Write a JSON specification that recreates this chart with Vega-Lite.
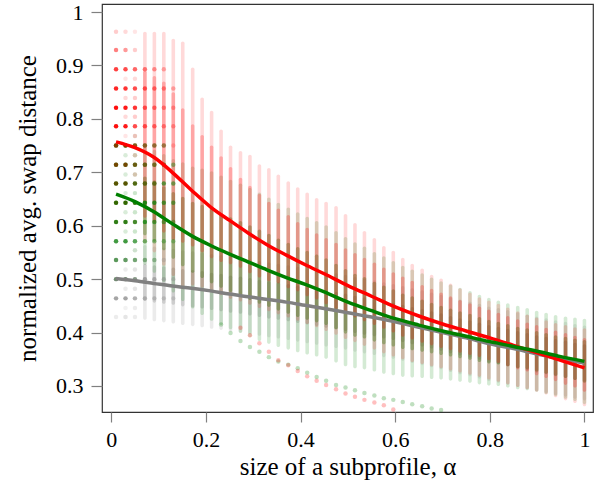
{
"$schema":"https://vega.github.io/schema/vega-lite/v6.json",
"width":491,"height":408,
"autosize":"none",
"padding":{"left":102,"top":4,"right":7,"bottom":79},
"config":{
 "font":"Liberation Serif",
 "view":{"stroke":"#333333","strokeWidth":1.2}
},
"datasets":{
"stripes":[
{"a":0.071,"rL":0.567,"rB":0.615,"rD":0.89,"rT":0.963,"gL":0.527,"gB":0.582,"gD":0.692,"gT":0.747,"kL":0.424,"kB":0.459,"kD":0.529,"kT":0.564},
{"a":0.091,"rL":0.550,"rB":0.605,"rD":0.88,"rT":0.963,"gL":0.512,"gB":0.570,"gD":0.685,"gT":0.742,"kL":0.421,"kB":0.456,"kD":0.526,"kT":0.561},
{"a":0.111,"rL":0.525,"rB":0.587,"rD":0.87,"rT":0.963,"gL":0.494,"gB":0.554,"gD":0.674,"gT":0.734,"kL":0.419,"kB":0.454,"kD":0.524,"kT":0.559},
{"a":0.131,"rL":0.506,"rB":0.573,"rD":0.85,"rT":0.95,"gL":0.475,"gB":0.538,"gD":0.663,"gT":0.725,"kL":0.417,"kB":0.452,"kD":0.522,"kT":0.557},
{"a":0.151,"rL":0.481,"rB":0.568,"rD":0.82,"rT":0.945,"gL":0.459,"gB":0.524,"gD":0.654,"gT":0.719,"kL":0.414,"kB":0.449,"kD":0.519,"kT":0.554},
{"a":0.172,"rL":0.488,"rB":0.561,"rD":0.79,"rT":0.896,"gL":0.445,"gB":0.512,"gD":0.645,"gT":0.711,"kL":0.412,"kB":0.447,"kD":0.517,"kT":0.552},
{"a":0.192,"rL":0.484,"rB":0.550,"rD":0.77,"rT":0.84,"gL":0.433,"gB":0.502,"gD":0.639,"gT":0.707,"kL":0.410,"kB":0.445,"kD":0.515,"kT":0.550},
{"a":0.212,"rL":0.477,"rB":0.539,"rD":0.75,"rT":0.815,"gL":0.422,"gB":0.492,"gD":0.632,"gT":0.702,"kL":0.407,"kB":0.442,"kD":0.512,"kT":0.547},
{"a":0.232,"rL":0.470,"rB":0.532,"rD":0.73,"rT":0.78,"gL":0.414,"gB":0.484,"gD":0.624,"gT":0.694,"kL":0.405,"kB":0.440,"kD":0.510,"kT":0.545},
{"a":0.252,"rL":0.463,"rB":0.528,"rD":0.71,"rT":0.75,"gL":0.406,"gB":0.476,"gD":0.616,"gT":0.686,"kL":0.402,"kB":0.437,"kD":0.507,"kT":0.542},
{"a":0.273,"rL":0.458,"rB":0.521,"rD":0.69,"rT":0.74,"gL":0.399,"gB":0.469,"gD":0.609,"gT":0.679,"kL":0.400,"kB":0.435,"kD":0.505,"kT":0.540},
{"a":0.293,"rL":0.452,"rB":0.511,"rD":0.675,"rT":0.733,"gL":0.391,"gB":0.461,"gD":0.601,"gT":0.671,"kL":0.397,"kB":0.432,"kD":0.502,"kT":0.537},
{"a":0.313,"rL":0.446,"rB":0.503,"rD":0.66,"rT":0.715,"gL":0.384,"gB":0.454,"gD":0.593,"gT":0.662,"kL":0.394,"kB":0.429,"kD":0.499,"kT":0.534},
{"a":0.333,"rL":0.440,"rB":0.496,"rD":0.645,"rT":0.708,"gL":0.379,"gB":0.448,"gD":0.585,"gT":0.653,"kL":0.391,"kB":0.426,"kD":0.496,"kT":0.531},
{"a":0.353,"rL":0.434,"rB":0.492,"rD":0.632,"rT":0.696,"gL":0.373,"gB":0.441,"gD":0.576,"gT":0.643,"kL":0.389,"kB":0.424,"kD":0.494,"kT":0.529},
{"a":0.374,"rL":0.428,"rB":0.483,"rD":0.62,"rT":0.683,"gL":0.368,"gB":0.435,"gD":0.568,"gT":0.634,"kL":0.386,"kB":0.421,"kD":0.491,"kT":0.526},
{"a":0.394,"rL":0.422,"rB":0.477,"rD":0.607,"rT":0.672,"gL":0.363,"gB":0.429,"gD":0.560,"gT":0.625,"kL":0.383,"kB":0.418,"kD":0.488,"kT":0.523},
{"a":0.414,"rL":0.416,"rB":0.468,"rD":0.596,"rT":0.662,"gL":0.359,"gB":0.424,"gD":0.553,"gT":0.617,"kL":0.380,"kB":0.415,"kD":0.485,"kT":0.520},
{"a":0.434,"rL":0.410,"rB":0.462,"rD":0.586,"rT":0.652,"gL":0.355,"gB":0.419,"gD":0.546,"gT":0.609,"kL":0.377,"kB":0.412,"kD":0.482,"kT":0.517},
{"a":0.454,"rL":0.403,"rB":0.453,"rD":0.577,"rT":0.645,"gL":0.351,"gB":0.414,"gD":0.539,"gT":0.601,"kL":0.374,"kB":0.409,"kD":0.479,"kT":0.514},
{"a":0.475,"rL":0.396,"rB":0.444,"rD":0.568,"rT":0.637,"gL":0.344,"gB":0.406,"gD":0.529,"gT":0.590,"kL":0.371,"kB":0.406,"kD":0.476,"kT":0.511},
{"a":0.495,"rL":0.388,"rB":0.436,"rD":0.558,"rT":0.622,"gL":0.337,"gB":0.398,"gD":0.519,"gT":0.579,"kL":0.368,"kB":0.403,"kD":0.473,"kT":0.508},
{"a":0.515,"rL":0.382,"rB":0.428,"rD":0.549,"rT":0.605,"gL":0.333,"gB":0.392,"gD":0.510,"gT":0.569,"kL":0.364,"kB":0.399,"kD":0.469,"kT":0.504},
{"a":0.535,"rL":0.375,"rB":0.421,"rD":0.54,"rT":0.59,"gL":0.331,"gB":0.389,"gD":0.504,"gT":0.561,"kL":0.361,"kB":0.396,"kD":0.466,"kT":0.501},
{"a":0.556,"rL":0.368,"rB":0.414,"rD":0.531,"rT":0.577,"gL":0.327,"gB":0.383,"gD":0.495,"gT":0.551,"kL":0.358,"kB":0.393,"kD":0.463,"kT":0.498},
{"a":0.576,"rL":0.361,"rB":0.407,"rD":0.522,"rT":0.562,"gL":0.323,"gB":0.378,"gD":0.488,"gT":0.543,"kL":0.354,"kB":0.389,"kD":0.459,"kT":0.494},
{"a":0.596,"rL":0.355,"rB":0.400,"rD":0.513,"rT":0.553,"gL":0.320,"gB":0.374,"gD":0.481,"gT":0.534,"kL":0.351,"kB":0.386,"kD":0.456,"kT":0.491},
{"a":0.616,"rL":0.350,"rB":0.392,"rD":0.505,"rT":0.54,"gL":0.317,"gB":0.369,"gD":0.473,"gT":0.525,"kL":0.347,"kB":0.382,"kD":0.452,"kT":0.487},
{"a":0.636,"rL":0.345,"rB":0.387,"rD":0.497,"rT":0.529,"gL":0.316,"gB":0.367,"gD":0.468,"gT":0.518,"kL":0.343,"kB":0.378,"kD":0.448,"kT":0.483},
{"a":0.657,"rL":0.341,"rB":0.381,"rD":0.489,"rT":0.52,"gL":0.315,"gB":0.364,"gD":0.462,"gT":0.511,"kL":0.339,"kB":0.374,"kD":0.444,"kT":0.479},
{"a":0.677,"rL":0.337,"rB":0.376,"rD":0.482,"rT":0.508,"gL":0.313,"gB":0.361,"gD":0.456,"gT":0.503,"kL":0.335,"kB":0.370,"kD":0.440,"kT":0.475},
{"a":0.697,"rL":0.333,"rB":0.371,"rD":0.475,"rT":0.501,"gL":0.312,"gB":0.358,"gD":0.450,"gT":0.496,"kL":0.331,"kB":0.366,"kD":0.436,"kT":0.471},
{"a":0.717,"rL":0.329,"rB":0.367,"rD":0.468,"rT":0.492,"gL":0.310,"gB":0.355,"gD":0.445,"gT":0.490,"kL":0.326,"kB":0.361,"kD":0.431,"kT":0.466},
{"a":0.737,"rL":0.325,"rB":0.362,"rD":0.461,"rT":0.483,"gL":0.308,"gB":0.352,"gD":0.440,"gT":0.484,"kL":0.322,"kB":0.357,"kD":0.427,"kT":0.462},
{"a":0.758,"rL":0.321,"rB":0.358,"rD":0.455,"rT":0.475,"gL":0.306,"gB":0.349,"gD":0.435,"gT":0.478,"kL":0.318,"kB":0.353,"kD":0.423,"kT":0.458},
{"a":0.778,"rL":0.317,"rB":0.354,"rD":0.449,"rT":0.466,"gL":0.303,"gB":0.345,"gD":0.429,"gT":0.471,"kL":0.314,"kB":0.349,"kD":0.419,"kT":0.454},
{"a":0.798,"rL":0.312,"rB":0.348,"rD":0.443,"rT":0.46,"gL":0.301,"gB":0.342,"gD":0.424,"gT":0.465,"kL":0.309,"kB":0.344,"kD":0.414,"kT":0.449},
{"a":0.818,"rL":0.308,"rB":0.343,"rD":0.437,"rT":0.454,"gL":0.300,"gB":0.340,"gD":0.420,"gT":0.460,"kL":0.306,"kB":0.341,"kD":0.411,"kT":0.446},
{"a":0.838,"rL":0.303,"rB":0.337,"rD":0.431,"rT":0.447,"gL":0.297,"gB":0.337,"gD":0.416,"gT":0.455,"kL":0.302,"kB":0.337,"kD":0.407,"kT":0.442},
{"a":0.859,"rL":0.298,"rB":0.331,"rD":0.425,"rT":0.44,"gL":0.294,"gB":0.333,"gD":0.411,"gT":0.450,"kL":0.298,"kB":0.333,"kD":0.403,"kT":0.438},
{"a":0.879,"rL":0.294,"rB":0.327,"rD":0.419,"rT":0.434,"gL":0.292,"gB":0.331,"gD":0.408,"gT":0.446,"kL":0.294,"kB":0.329,"kD":0.399,"kT":0.434},
{"a":0.899,"rL":0.289,"rB":0.320,"rD":0.414,"rT":0.428,"gL":0.289,"gB":0.327,"gD":0.403,"gT":0.441,"kL":0.290,"kB":0.325,"kD":0.395,"kT":0.430},
{"a":0.919,"rL":0.284,"rB":0.315,"rD":0.409,"rT":0.423,"gL":0.285,"gB":0.323,"gD":0.399,"gT":0.437,"kL":0.287,"kB":0.322,"kD":0.392,"kT":0.427},
{"a":0.939,"rL":0.279,"rB":0.309,"rD":0.404,"rT":0.418,"gL":0.281,"gB":0.319,"gD":0.395,"gT":0.433,"kL":0.283,"kB":0.318,"kD":0.388,"kT":0.423},
{"a":0.960,"rL":0.273,"rB":0.302,"rD":0.399,"rT":0.414,"gL":0.276,"gB":0.315,"gD":0.392,"gT":0.430,"kL":0.280,"kB":0.315,"kD":0.385,"kT":0.420},
{"a":0.980,"rL":0.268,"rB":0.297,"rD":0.394,"rT":0.41,"gL":0.272,"gB":0.311,"gD":0.389,"gT":0.428,"kL":0.276,"kB":0.311,"kD":0.381,"kT":0.416},
{"a":1.000,"rL":0.262,"rB":0.289,"rD":0.39,"rT":0.408,"gL":0.266,"gB":0.306,"gD":0.386,"gT":0.426,"kL":0.273,"kB":0.308,"kD":0.378,"kT":0.413}
],
"pts":[
{"a":0.01,"s":"k","y":0.571,"n":6},{"a":0.01,"s":"k","y":0.536,"n":12},{"a":0.01,"s":"k","y":0.500,"n":18},{"a":0.01,"s":"k","y":0.464,"n":14},{"a":0.01,"s":"k","y":0.429,"n":3},
{"a":0.01,"s":"g","y":0.786,"n":2},{"a":0.01,"s":"g","y":0.750,"n":20},{"a":0.01,"s":"g","y":0.714,"n":20},{"a":0.01,"s":"g","y":0.679,"n":20},{"a":0.01,"s":"g","y":0.643,"n":20},{"a":0.01,"s":"g","y":0.607,"n":18},{"a":0.01,"s":"g","y":0.571,"n":14},{"a":0.01,"s":"g","y":0.536,"n":10},{"a":0.01,"s":"g","y":0.500,"n":4},
{"a":0.01,"s":"r","y":0.963,"n":4},{"a":0.01,"s":"r","y":0.929,"n":10},{"a":0.01,"s":"r","y":0.893,"n":15},{"a":0.01,"s":"r","y":0.857,"n":17},{"a":0.01,"s":"r","y":0.821,"n":19},{"a":0.01,"s":"r","y":0.786,"n":19},{"a":0.01,"s":"r","y":0.750,"n":10},{"a":0.01,"s":"r","y":0.714,"n":9},{"a":0.01,"s":"r","y":0.679,"n":7},{"a":0.01,"s":"r","y":0.643,"n":4},{"a":0.01,"s":"r","y":0.607,"n":2},
{"a":0.03,"s":"k","y":0.571,"n":6},{"a":0.03,"s":"k","y":0.536,"n":12},{"a":0.03,"s":"k","y":0.518,"n":3},{"a":0.03,"s":"k","y":0.500,"n":18},{"a":0.03,"s":"k","y":0.482,"n":3},{"a":0.03,"s":"k","y":0.464,"n":14},{"a":0.03,"s":"k","y":0.446,"n":2},{"a":0.03,"s":"k","y":0.429,"n":4},
{"a":0.03,"s":"g","y":0.750,"n":20},{"a":0.03,"s":"g","y":0.732,"n":3},{"a":0.03,"s":"g","y":0.714,"n":20},{"a":0.03,"s":"g","y":0.696,"n":3},{"a":0.03,"s":"g","y":0.679,"n":20},{"a":0.03,"s":"g","y":0.661,"n":3},{"a":0.03,"s":"g","y":0.643,"n":20},{"a":0.03,"s":"g","y":0.625,"n":3},{"a":0.03,"s":"g","y":0.607,"n":18},{"a":0.03,"s":"g","y":0.589,"n":3},{"a":0.03,"s":"g","y":0.571,"n":14},{"a":0.03,"s":"g","y":0.536,"n":9},{"a":0.03,"s":"g","y":0.500,"n":4},
{"a":0.03,"s":"r","y":0.963,"n":3},{"a":0.03,"s":"r","y":0.929,"n":8},{"a":0.03,"s":"r","y":0.893,"n":14},{"a":0.03,"s":"r","y":0.875,"n":2},{"a":0.03,"s":"r","y":0.857,"n":16},{"a":0.03,"s":"r","y":0.839,"n":3},{"a":0.03,"s":"r","y":0.821,"n":18},{"a":0.03,"s":"r","y":0.804,"n":3},{"a":0.03,"s":"r","y":0.786,"n":18},{"a":0.03,"s":"r","y":0.768,"n":2},{"a":0.03,"s":"r","y":0.750,"n":10},{"a":0.03,"s":"r","y":0.714,"n":9},{"a":0.03,"s":"r","y":0.679,"n":7},{"a":0.03,"s":"r","y":0.643,"n":4},{"a":0.03,"s":"r","y":0.607,"n":2},
{"a":0.05,"s":"k","y":0.571,"n":5},{"a":0.05,"s":"k","y":0.554,"n":2},{"a":0.05,"s":"k","y":0.536,"n":10},{"a":0.05,"s":"k","y":0.518,"n":4},{"a":0.05,"s":"k","y":0.500,"n":15},{"a":0.05,"s":"k","y":0.482,"n":4},{"a":0.05,"s":"k","y":0.464,"n":12},{"a":0.05,"s":"k","y":0.446,"n":3},{"a":0.05,"s":"k","y":0.429,"n":3},
{"a":0.05,"s":"g","y":0.768,"n":2},{"a":0.05,"s":"g","y":0.750,"n":16},{"a":0.05,"s":"g","y":0.732,"n":4},{"a":0.05,"s":"g","y":0.714,"n":18},{"a":0.05,"s":"g","y":0.696,"n":4},{"a":0.05,"s":"g","y":0.679,"n":18},{"a":0.05,"s":"g","y":0.661,"n":4},{"a":0.05,"s":"g","y":0.643,"n":18},{"a":0.05,"s":"g","y":0.625,"n":4},{"a":0.05,"s":"g","y":0.607,"n":16},{"a":0.05,"s":"g","y":0.589,"n":4},{"a":0.05,"s":"g","y":0.571,"n":12},{"a":0.05,"s":"g","y":0.554,"n":3},{"a":0.05,"s":"g","y":0.536,"n":8},{"a":0.05,"s":"g","y":0.500,"n":3},
{"a":0.05,"s":"r","y":0.963,"n":2},{"a":0.05,"s":"r","y":0.929,"n":4},{"a":0.05,"s":"r","y":0.893,"n":12},{"a":0.05,"s":"r","y":0.875,"n":3},{"a":0.05,"s":"r","y":0.857,"n":14},{"a":0.05,"s":"r","y":0.839,"n":4},{"a":0.05,"s":"r","y":0.821,"n":16},{"a":0.05,"s":"r","y":0.804,"n":4},{"a":0.05,"s":"r","y":0.786,"n":14},{"a":0.05,"s":"r","y":0.768,"n":4},{"a":0.05,"s":"r","y":0.750,"n":8},{"a":0.05,"s":"r","y":0.732,"n":3},{"a":0.05,"s":"r","y":0.714,"n":7},{"a":0.05,"s":"r","y":0.696,"n":3},{"a":0.05,"s":"r","y":0.679,"n":5},{"a":0.05,"s":"r","y":0.643,"n":3},{"a":0.05,"s":"r","y":0.607,"n":2},
{"a":0.071,"s":"k","y":0.536,"n":8},{"a":0.071,"s":"k","y":0.500,"n":12},{"a":0.071,"s":"k","y":0.464,"n":9},
{"a":0.071,"s":"g","y":0.750,"n":14},{"a":0.071,"s":"g","y":0.714,"n":16},{"a":0.071,"s":"g","y":0.679,"n":16},{"a":0.071,"s":"g","y":0.643,"n":16},{"a":0.071,"s":"g","y":0.607,"n":14},{"a":0.071,"s":"g","y":0.571,"n":10},{"a":0.071,"s":"g","y":0.536,"n":6},
{"a":0.071,"s":"r","y":0.893,"n":10},{"a":0.071,"s":"r","y":0.857,"n":12},{"a":0.071,"s":"r","y":0.821,"n":12},{"a":0.071,"s":"r","y":0.786,"n":12},{"a":0.071,"s":"r","y":0.750,"n":7},{"a":0.071,"s":"r","y":0.714,"n":6},{"a":0.071,"s":"r","y":0.679,"n":5},
{"a":0.091,"s":"k","y":0.536,"n":6},{"a":0.091,"s":"k","y":0.500,"n":10},{"a":0.091,"s":"k","y":0.464,"n":7},
{"a":0.091,"s":"g","y":0.750,"n":12},{"a":0.091,"s":"g","y":0.714,"n":14},{"a":0.091,"s":"g","y":0.679,"n":14},{"a":0.091,"s":"g","y":0.643,"n":14},{"a":0.091,"s":"g","y":0.607,"n":12},{"a":0.091,"s":"g","y":0.571,"n":8},{"a":0.091,"s":"g","y":0.536,"n":5},
{"a":0.091,"s":"r","y":0.893,"n":8},{"a":0.091,"s":"r","y":0.857,"n":10},{"a":0.091,"s":"r","y":0.821,"n":10},{"a":0.091,"s":"r","y":0.786,"n":10},{"a":0.091,"s":"r","y":0.750,"n":6},{"a":0.091,"s":"r","y":0.714,"n":5},{"a":0.091,"s":"r","y":0.679,"n":4},
{"a":0.111,"s":"k","y":0.536,"n":5},{"a":0.111,"s":"k","y":0.500,"n":8},{"a":0.111,"s":"k","y":0.464,"n":6},
{"a":0.111,"s":"g","y":0.750,"n":10},{"a":0.111,"s":"g","y":0.714,"n":12},{"a":0.111,"s":"g","y":0.679,"n":12},{"a":0.111,"s":"g","y":0.643,"n":12},{"a":0.111,"s":"g","y":0.607,"n":10},{"a":0.111,"s":"g","y":0.571,"n":7},
{"a":0.111,"s":"r","y":0.893,"n":6},{"a":0.111,"s":"r","y":0.857,"n":8},{"a":0.111,"s":"r","y":0.821,"n":8},{"a":0.111,"s":"r","y":0.786,"n":8},{"a":0.111,"s":"r","y":0.750,"n":5},{"a":0.111,"s":"r","y":0.714,"n":4},
{"a":0.131,"s":"k","y":0.500,"n":6},{"a":0.131,"s":"k","y":0.464,"n":5},
{"a":0.131,"s":"g","y":0.714,"n":8},{"a":0.131,"s":"g","y":0.679,"n":10},{"a":0.131,"s":"g","y":0.643,"n":10},{"a":0.131,"s":"g","y":0.607,"n":8},{"a":0.131,"s":"g","y":0.571,"n":6},
{"a":0.131,"s":"r","y":0.857,"n":6},{"a":0.131,"s":"r","y":0.821,"n":6},{"a":0.131,"s":"r","y":0.786,"n":6},{"a":0.131,"s":"r","y":0.750,"n":4},
{"a":0.232,"s":"g","y":0.415,"n":5},{"a":0.252,"s":"g","y":0.399,"n":5},{"a":0.273,"s":"g","y":0.384,"n":5},{"a":0.293,"s":"g","y":0.373,"n":5},{"a":0.313,"s":"g","y":0.364,"n":5},{"a":0.333,"s":"g","y":0.354,"n":5},{"a":0.353,"s":"g","y":0.346,"n":5},{"a":0.374,"s":"g","y":0.340,"n":5},{"a":0.394,"s":"g","y":0.333,"n":5},{"a":0.414,"s":"g","y":0.325,"n":5},{"a":0.434,"s":"g","y":0.317,"n":5},{"a":0.454,"s":"g","y":0.310,"n":5},{"a":0.475,"s":"g","y":0.302,"n":5},{"a":0.495,"s":"g","y":0.297,"n":5},{"a":0.515,"s":"g","y":0.292,"n":5},{"a":0.535,"s":"g","y":0.287,"n":5},{"a":0.556,"s":"g","y":0.282,"n":5},{"a":0.576,"s":"g","y":0.277,"n":5},{"a":0.596,"s":"g","y":0.274,"n":5},{"a":0.616,"s":"g","y":0.270,"n":5},{"a":0.636,"s":"g","y":0.266,"n":5},{"a":0.657,"s":"g","y":0.262,"n":5},{"a":0.677,"s":"g","y":0.258,"n":5},{"a":0.697,"s":"g","y":0.255,"n":5},
{"a":0.273,"s":"r","y":0.409,"n":5},{"a":0.293,"s":"r","y":0.395,"n":5},{"a":0.313,"s":"r","y":0.380,"n":5},{"a":0.333,"s":"r","y":0.364,"n":5},{"a":0.353,"s":"r","y":0.348,"n":5},{"a":0.374,"s":"r","y":0.339,"n":5},{"a":0.394,"s":"r","y":0.328,"n":5},{"a":0.414,"s":"r","y":0.318,"n":5},{"a":0.434,"s":"r","y":0.310,"n":5},{"a":0.454,"s":"r","y":0.302,"n":5},{"a":0.475,"s":"r","y":0.294,"n":5},{"a":0.495,"s":"r","y":0.286,"n":5},{"a":0.515,"s":"r","y":0.280,"n":5},{"a":0.535,"s":"r","y":0.274,"n":5},{"a":0.556,"s":"r","y":0.269,"n":5},{"a":0.576,"s":"r","y":0.264,"n":5},{"a":0.596,"s":"r","y":0.256,"n":5}
],
"lines":[
{"a":0.01,"s":"k","v":0.501},{"a":0.05,"s":"k","v":0.497},{"a":0.09,"s":"k","v":0.492},{"a":0.13,"s":"k","v":0.487},{"a":0.17,"s":"k","v":0.483},{"a":0.21,"s":"k","v":0.478},{"a":0.25,"s":"k","v":0.472},{"a":0.29,"s":"k","v":0.467},{"a":0.33,"s":"k","v":0.462},{"a":0.37,"s":"k","v":0.457},{"a":0.41,"s":"k","v":0.451},{"a":0.45,"s":"k","v":0.445},{"a":0.5,"s":"k","v":0.437},{"a":0.55,"s":"k","v":0.429},{"a":0.6,"s":"k","v":0.42},{"a":0.65,"s":"k","v":0.41},{"a":0.7,"s":"k","v":0.4},{"a":0.75,"s":"k","v":0.39},{"a":0.8,"s":"k","v":0.379},{"a":0.85,"s":"k","v":0.37},{"a":0.9,"s":"k","v":0.36},{"a":0.95,"s":"k","v":0.351},{"a":1,"s":"k","v":0.343},
{"a":0.01,"s":"r","v":0.757},{"a":0.05,"s":"r","v":0.746},{"a":0.09,"s":"r","v":0.728},{"a":0.13,"s":"r","v":0.699},{"a":0.17,"s":"r","v":0.666},{"a":0.21,"s":"r","v":0.635},{"a":0.25,"s":"r","v":0.61},{"a":0.29,"s":"r","v":0.586},{"a":0.33,"s":"r","v":0.564},{"a":0.37,"s":"r","v":0.545},{"a":0.41,"s":"r","v":0.527},{"a":0.45,"s":"r","v":0.51},{"a":0.5,"s":"r","v":0.488},{"a":0.55,"s":"r","v":0.468},{"a":0.6,"s":"r","v":0.448},{"a":0.65,"s":"r","v":0.431},{"a":0.7,"s":"r","v":0.416},{"a":0.75,"s":"r","v":0.403},{"a":0.8,"s":"r","v":0.39},{"a":0.85,"s":"r","v":0.376},{"a":0.9,"s":"r","v":0.362},{"a":0.95,"s":"r","v":0.348},{"a":1,"s":"r","v":0.334},
{"a":0.01,"s":"g","v":0.659},{"a":0.05,"s":"g","v":0.645},{"a":0.09,"s":"g","v":0.626},{"a":0.13,"s":"g","v":0.603},{"a":0.17,"s":"g","v":0.581},{"a":0.21,"s":"g","v":0.563},{"a":0.25,"s":"g","v":0.547},{"a":0.29,"s":"g","v":0.532},{"a":0.33,"s":"g","v":0.517},{"a":0.37,"s":"g","v":0.503},{"a":0.41,"s":"g","v":0.49},{"a":0.45,"s":"g","v":0.476},{"a":0.5,"s":"g","v":0.457},{"a":0.55,"s":"g","v":0.441},{"a":0.6,"s":"g","v":0.426},{"a":0.65,"s":"g","v":0.414},{"a":0.7,"s":"g","v":0.403},{"a":0.75,"s":"g","v":0.393},{"a":0.8,"s":"g","v":0.383},{"a":0.85,"s":"g","v":0.374},{"a":0.9,"s":"g","v":0.365},{"a":0.95,"s":"g","v":0.355},{"a":1,"s":"g","v":0.346}
]
},
"layer":[
{"data":{"name":"stripes"},"mark":{"type":"bar","width":3.6,"cornerRadius":1.8,"color":"#808080","opacity":0.16},
 "encoding":{"x":{"field":"a","type":"quantitative","scale":{"domain":[-0.0091,1.0075],"nice":false,"zero":false},"title":"size of a subprofile, α",
   "axis":{"values":[0,0.2,0.4,0.6,0.8,1],"format":"~g","labelFont":"Liberation Serif","labelFontSize":22,"titleFont":"Liberation Serif","titleFontSize":25,"titleFontWeight":"normal","labelColor":"#000","titleColor":"#000","tickColor":"#808080","tickWidth":1.2,"tickSize":10,"domain":false,"grid":false,"labelFlush":false,"labelPadding":7,"titlePadding":4}},
  "y":{"field":"kL","type":"quantitative","scale":{"domain":[0.2513,1.015],"nice":false,"zero":false},"title":"normalized avg. swap distance",
   "axis":{"values":[0.3,0.4,0.5,0.6,0.7,0.8,0.9,1],"format":"~g","labelFont":"Liberation Serif","labelFontSize":22,"titleFont":"Liberation Serif","titleFontSize":25,"titleFontWeight":"normal","labelColor":"#000","titleColor":"#000","tickColor":"#808080","tickWidth":1.2,"tickSize":11,"domain":false,"grid":false,"labelFlush":false,"labelPadding":8,"titlePadding":15}},
  "y2":{"field":"kT"}}},
{"data":{"name":"stripes"},"mark":{"type":"bar","width":3.6,"cornerRadius":1.8,"color":"#808080","opacity":0.28},
 "encoding":{"x":{"field":"a","type":"quantitative","title":"size of a subprofile, α"},
  "y":{"field":"kB","type":"quantitative","title":"normalized avg. swap distance"},"y2":{"field":"kD"}}},
{"data":{"name":"stripes"},"mark":{"type":"bar","width":3.6,"cornerRadius":1.8,"color":"#008000","opacity":0.17},
 "encoding":{"x":{"field":"a","type":"quantitative","title":"size of a subprofile, α"},
  "y":{"field":"gL","type":"quantitative","title":"normalized avg. swap distance"},"y2":{"field":"gT"}}},
{"data":{"name":"stripes"},"mark":{"type":"bar","width":3.6,"cornerRadius":1.8,"color":"#008000","opacity":0.33},
 "encoding":{"x":{"field":"a","type":"quantitative","title":"size of a subprofile, α"},
  "y":{"field":"gB","type":"quantitative","title":"normalized avg. swap distance"},"y2":{"field":"gD"}}},
{"data":{"name":"stripes"},"mark":{"type":"bar","width":3.6,"cornerRadius":1.8,"color":"#ff0000","opacity":0.15},
 "encoding":{"x":{"field":"a","type":"quantitative","title":"size of a subprofile, α"},
  "y":{"field":"rL","type":"quantitative","title":"normalized avg. swap distance"},"y2":{"field":"rT"}}},
{"data":{"name":"stripes"},"mark":{"type":"bar","width":3.6,"cornerRadius":1.8,"color":"#ff0000","opacity":0.24},
 "encoding":{"x":{"field":"a","type":"quantitative","title":"size of a subprofile, α"},
  "y":{"field":"rB","type":"quantitative","title":"normalized avg. swap distance"},"y2":{"field":"rD"}}},
{"data":{"name":"pts"},"mark":{"type":"circle","size":20},
 "encoding":{"x":{"field":"a","type":"quantitative","title":"size of a subprofile, α"},
  "y":{"field":"y","type":"quantitative","title":"normalized avg. swap distance"},
  "color":{"field":"s","type":"nominal","scale":{"domain":["k","g","r"],"range":["#7f7f7f","#008000","#ff0000"]},"legend":null},
  "opacity":{"field":"n","type":"quantitative","scale":{"domain":[0,20],"range":[0,1],"clamp":true},"legend":null}}},
{"data":{"name":"lines"},"transform":[{"filter":"datum.s == 'k'"}],"mark":{"type":"line","color":"#808080","strokeWidth":3.5,"interpolate":"monotone"},
 "encoding":{"x":{"field":"a","type":"quantitative","title":"size of a subprofile, α"},"y":{"field":"v","type":"quantitative","title":"normalized avg. swap distance"}}},
{"data":{"name":"lines"},"transform":[{"filter":"datum.s == 'r'"}],"mark":{"type":"line","color":"#ff0000","strokeWidth":3.5,"interpolate":"monotone"},
 "encoding":{"x":{"field":"a","type":"quantitative","title":"size of a subprofile, α"},"y":{"field":"v","type":"quantitative","title":"normalized avg. swap distance"}}},
{"data":{"name":"lines"},"transform":[{"filter":"datum.s == 'g'"}],"mark":{"type":"line","color":"#008000","strokeWidth":3.5,"interpolate":"monotone"},
 "encoding":{"x":{"field":"a","type":"quantitative","title":"size of a subprofile, α"},"y":{"field":"v","type":"quantitative","title":"normalized avg. swap distance"}}}
]
}
